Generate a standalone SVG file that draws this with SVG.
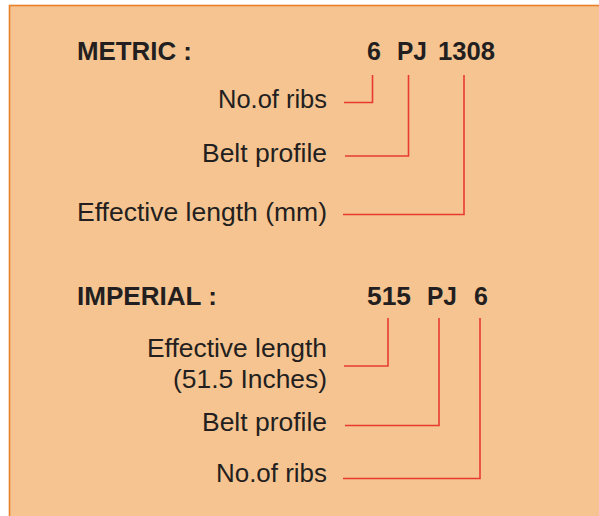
<svg xmlns="http://www.w3.org/2000/svg" width="599" height="516" viewBox="0 0 599 516">
  <style>
    .panel { fill: #F6C491; stroke: #E8822A; stroke-width: 1.6; }
    .bold { font-family: "Liberation Sans", Arial, sans-serif; font-weight: bold; font-size: 25px; fill: #231F20; }
    .lbl { font-family: "Liberation Sans", Arial, sans-serif; font-size: 25px; fill: #231F20; text-anchor: end; }
    .conn { fill: none; stroke: #E63B2E; stroke-width: 1.6; }
  </style>
  <rect width="599" height="516" fill="#FFFFFF"/>
  <rect class="panel" x="9.5" y="5.5" width="600" height="520"/>

  <!-- Metric code -->
  <g id="metric-title"><text class="bold" x="77" y="60" textLength="115" lengthAdjust="spacingAndGlyphs">METRIC :</text></g>
  <g id="metric-code">
    <text class="bold" x="367" y="60">6</text>
    <text class="bold" x="397" y="60" textLength="30" lengthAdjust="spacingAndGlyphs">PJ</text>
    <text class="bold" x="438" y="60" textLength="57" lengthAdjust="spacingAndGlyphs">1308</text>
  </g>
  <g id="metric-ribs"><text class="lbl" x="327" y="108" textLength="109" lengthAdjust="spacingAndGlyphs">No.of ribs</text></g>
  <g id="metric-profile"><text class="lbl" x="327" y="162" textLength="125" lengthAdjust="spacingAndGlyphs">Belt profile</text></g>
  <g id="metric-length"><text class="lbl" x="327" y="221" textLength="250" lengthAdjust="spacingAndGlyphs">Effective length (mm)</text></g>

  <!-- Imperial code -->
  <g id="imperial-title"><text class="bold" x="77" y="305" textLength="140" lengthAdjust="spacingAndGlyphs">IMPERIAL :</text></g>
  <g id="imperial-code">
    <text class="bold" x="367" y="305" textLength="44" lengthAdjust="spacingAndGlyphs">515</text>
    <text class="bold" x="427" y="305" textLength="30" lengthAdjust="spacingAndGlyphs">PJ</text>
    <text class="bold" x="474" y="305">6</text>
  </g>
  <g id="imperial-length">
    <text class="lbl" x="327" y="357" textLength="180" lengthAdjust="spacingAndGlyphs">Effective length</text>
    <text class="lbl" x="327" y="388" textLength="154" lengthAdjust="spacingAndGlyphs">(51.5 Inches)</text>
  </g>
  <g id="imperial-profile"><text class="lbl" x="327" y="431" textLength="125" lengthAdjust="spacingAndGlyphs">Belt profile</text></g>
  <g id="imperial-ribs"><text class="lbl" x="327" y="482" textLength="111" lengthAdjust="spacingAndGlyphs">No.of ribs</text></g>

  <!-- Leader lines -->
  <g id="connectors">
    <polyline class="conn" points="372.5,75 372.5,102.5 344,102.5"/>
    <polyline class="conn" points="408.5,75 408.5,156 345,156"/>
    <polyline class="conn" points="464,75 464,214.5 343,214.5"/>
    <polyline class="conn" points="388,318 388,366 344,366"/>
    <polyline class="conn" points="439,318 439,425.5 345,425.5"/>
    <polyline class="conn" points="480,318 480,478.5 343,478.5"/>
  </g>
</svg>
